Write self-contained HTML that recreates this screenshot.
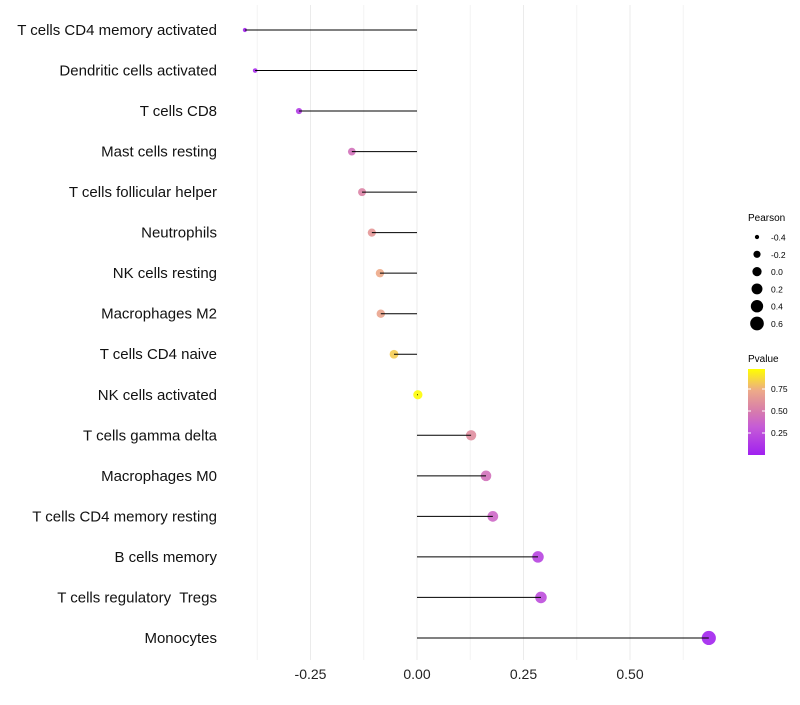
<!DOCTYPE html>
<html><head><meta charset="utf-8"><style>
body{margin:0;background:#fff;font-family:"Liberation Sans",sans-serif}
text{white-space:pre}
</style></head><body>
<svg id="c" width="800" height="700" xmlns="http://www.w3.org/2000/svg">
<defs><linearGradient id="pg" x1="0" y1="1" x2="0" y2="0">
<stop offset="0" stop-color="#A020F0"/><stop offset="0.33" stop-color="#C65CD6"/><stop offset="0.5" stop-color="#D67AAE"/><stop offset="0.75" stop-color="#EDAA88"/><stop offset="1" stop-color="#FFFF00"/></linearGradient></defs>
<g id="grid"></g><g id="marks"></g><g id="stems"></g><g id="labels"></g><g id="legend"></g>
</svg>
<script>
const categories=["T cells CD4 memory activated","Dendritic cells activated","T cells CD8","Mast cells resting","T cells follicular helper","Neutrophils","NK cells resting","Macrophages M2","T cells CD4 naive","NK cells activated","T cells gamma delta","Macrophages M0","T cells CD4 memory resting","B cells memory","T cells regulatory  Tregs","Monocytes"];
const pearson=[-0.404,-0.38,-0.277,-0.153,-0.129,-0.106,-0.087,-0.085,-0.054,0.002,0.127,0.162,0.178,0.284,0.291,0.685];
const pvalue=[0.03,0.06,0.15,0.45,0.55,0.65,0.75,0.72,0.85,0.99,0.6,0.45,0.4,0.2,0.25,0.02];
const xTicks=[-0.25,0,0.25,0.5];
const xTickLabels=["-0.25","0.00","0.25","0.50"];
const sizeLegend=[-0.4,-0.2,0.0,0.2,0.4,0.6];
const colorTicks=[0.25,0.5,0.75];
const NS="http://www.w3.org/2000/svg";
const X=v=>417+v*426;
const Y=i=>30+i*40.53;
const R=v=>Math.sqrt(Math.max(1,4.5+(v+0.4)*42));
const stops=[[0,[160,32,240]],[0.33,[198,92,214]],[0.5,[214,122,174]],[0.75,[237,170,136]],[1,[255,255,0]]];
function col(p){for(let i=1;i<stops.length;i++){if(p<=stops[i][0]){const a=stops[i-1],b=stops[i],t=(p-a[0])/(b[0]-a[0]);return "rgb("+a[1].map((c,k)=>Math.round(c+(b[1][k]-c)*t)).join(",")+")";}}return "rgb(255,255,0)";}
function mk(t,a,p){const e=document.createElementNS(NS,t);for(const k in a)e.setAttribute(k,a[k]);(p||document.getElementById('c')).appendChild(e);return e;}
const grid=document.getElementById('grid'),marks=document.getElementById('marks'),stems=document.getElementById('stems'),labels=document.getElementById('labels'),lg=document.getElementById('legend');
for(let v=-0.375;v<=0.626;v+=0.125){const g=mk('line',{x1:X(v),x2:X(v),y1:5,y2:660,stroke:Math.abs((v*8)%2)<0.01?'#ebebeb':'#f3f3f3','stroke-width':1},grid);

}
xTicks.forEach((v,i)=>{const t=mk('text',{x:X(v),y:679,'text-anchor':'middle','font-size':14,fill:'#222'},labels);t.textContent=xTickLabels[i];

});
categories.forEach((c,i)=>{const t=mk('text',{x:217,y:Y(i)+5,'text-anchor':'end','font-size':15,fill:'#111'},labels);t.textContent=c;


const p=mk('circle',{cx:X(pearson[i]),cy:Y(i),r:R(pearson[i]),fill:col(pvalue[i]),'fill-opacity':0.9},marks);


const l=mk('line',{x1:X(0),x2:X(pearson[i]),y1:Y(i),y2:Y(i),stroke:'#000','stroke-width':1},stems);

});
let t=mk('text',{x:748,y:221,'font-size':10},lg);t.textContent='Pearson';


sizeLegend.forEach((v,i)=>{const cy=237+i*17.3;const c=mk('circle',{cx:757,cy:cy,r:R(v),fill:'#000'},lg);


const tt=mk('text',{x:771,y:cy+3.5,'font-size':8.5},lg);tt.textContent=v.toFixed(1);

});
t=mk('text',{x:748,y:362,'font-size':10},lg);t.textContent='Pvalue';


const bar=mk('rect',{x:748,y:369,width:17,height:86,fill:'url(#pg)'},lg);


colorTicks.forEach(v=>{const y=455-v*88;mk('line',{x1:748,x2:751,y1:y,y2:y,stroke:'#fff'},lg);mk('line',{x1:762,x2:765,y1:y,y2:y,stroke:'#fff'},lg);
const tt=mk('text',{x:771,y:y+3,'font-size':8.5},lg);tt.textContent=v.toFixed(2);

});
</script>
</body></html>
